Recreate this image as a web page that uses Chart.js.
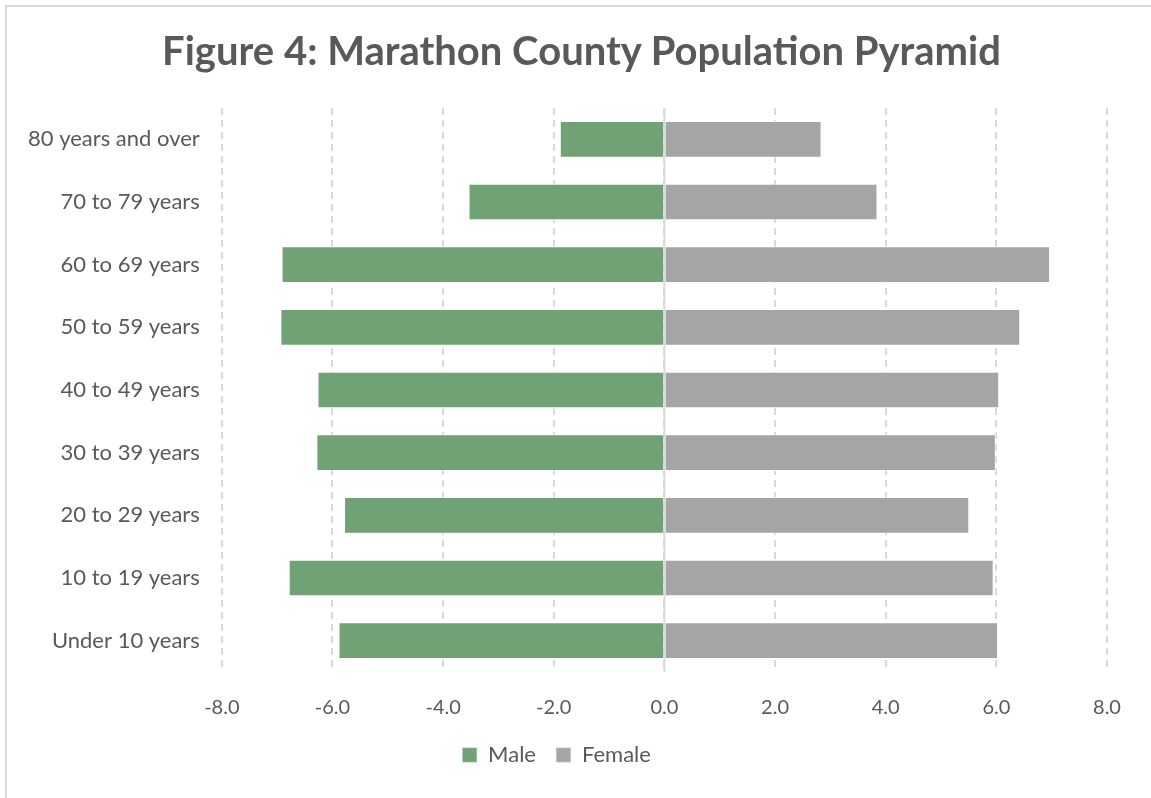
<!DOCTYPE html>
<html>
<head>
<meta charset="utf-8">
<script src="https://cdn.jsdelivr.net/npm/chart.js@4"></script>
<style>
    html, body { margin: 0; padding: 0; background: #fff; overflow: hidden; }
    .frame { position: absolute; left: 5px; top: 5px; width: 1160px; height: 810px; border: 2px solid #d9d9d9; box-sizing: border-box; }
    .wrap { position: absolute; left: 0; top: 0; width: 1151px; height: 798px; }
    .title { position: absolute; left: 6px; top: 26px; width: 1151px; text-align: center; line-height: 48px;
        font: bold 40px Lato, "Open Sans", sans-serif; color: #595959; }
</style>
</head>
<body>
<div class="frame"></div>
<div class="wrap"><canvas id="pyramidChart"></canvas></div>
<div class="title">Figure 4: Marathon County Population Pyramid</div>
<script>
const ageGroups = ['80 years and over', '70 to 79 years', '60 to 69 years', '50 to 59 years',
    '40 to 49 years', '30 to 39 years', '20 to 29 years', '10 to 19 years', 'Under 10 years'];
// male shares are plotted to the left, so they are negative
const maleValues = [-1.9, -3.55, -6.93, -6.95, -6.28, -6.3, -5.8, -6.8, -5.9];
const femaleValues = [2.85, 3.86, 6.98, 6.44, 6.06, 6.0, 5.52, 5.96, 6.04];
const xTicks = [-8, -6, -4, -2, 0, 2, 4, 6, 8];

const textColor = '#595959';
const fontName = 'Lato, "Open Sans", sans-serif';

// solid line at zero, drawn over the bars
const zeroLine = {
    id: 'zeroLine',
    afterDatasetsDraw(chart) {
        const x = chart.scales.x.getPixelForValue(0);
        const ctx = chart.ctx;
        ctx.save();
        ctx.strokeStyle = '#d9d9d9';
        ctx.lineWidth = 2;
        ctx.beginPath();
        ctx.moveTo(x, chart.chartArea.top);
        ctx.lineTo(x, chart.chartArea.bottom);
        ctx.stroke();
        ctx.restore();
    }
};

new Chart(document.getElementById('pyramidChart'), {
    type: 'bar',
    data: {
        labels: ageGroups,
        datasets: [{
            label: 'Male',
            data: maleValues,
            backgroundColor: '#70a275',
            borderColor: 'rgba(255,255,255,0.45)',
            borderWidth: 1.5,
            barPercentage: 0.6,
            categoryPercentage: 1
        }, {
            label: 'Female',
            data: femaleValues,
            backgroundColor: '#a5a5a5',
            borderColor: 'rgba(255,255,255,0.45)',
            borderWidth: 1.5,
            barPercentage: 0.6,
            categoryPercentage: 1
        }]
    },
    options: {
        indexAxis: 'y',
        responsive: true,
        maintainAspectRatio: false,
        animation: false,
        layout: { padding: { top: 108, left: 6, right: 44, bottom: 22 } },
        plugins: {
            title: { display: false },
            legend: {
                position: 'bottom',
                labels: {
                    color: textColor,
                    font: { family: fontName, size: 22 },
                    boxWidth: 15,
                    boxHeight: 15,
                    padding: 20
                }
            },
            tooltip: { enabled: false }
        },
        scales: {
            x: {
                stacked: true,
                min: xTicks[0],
                max: xTicks[xTicks.length - 1],
                afterBuildTicks: (axis) => { axis.ticks = xTicks.map(v => ({ value: v })); },
                afterFit: (axis) => { axis.height = 52; },
                ticks: {
                    color: textColor,
                    font: { family: fontName, size: 20 },
                    padding: 24,
                    callback: (v) => Number(v).toFixed(1)
                },
                grid: { color: '#d9d9d9', lineWidth: 2, drawTicks: false },
                border: { display: false, dash: [7, 5] }
            },
            y: {
                stacked: true,
                ticks: {
                    color: textColor,
                    font: { family: fontName, size: 22 },
                    padding: 22
                },
                grid: { display: false, drawTicks: false },
                border: { display: false }
            }
        }
    },
    plugins: [zeroLine]
});
</script>
</body>
</html>
